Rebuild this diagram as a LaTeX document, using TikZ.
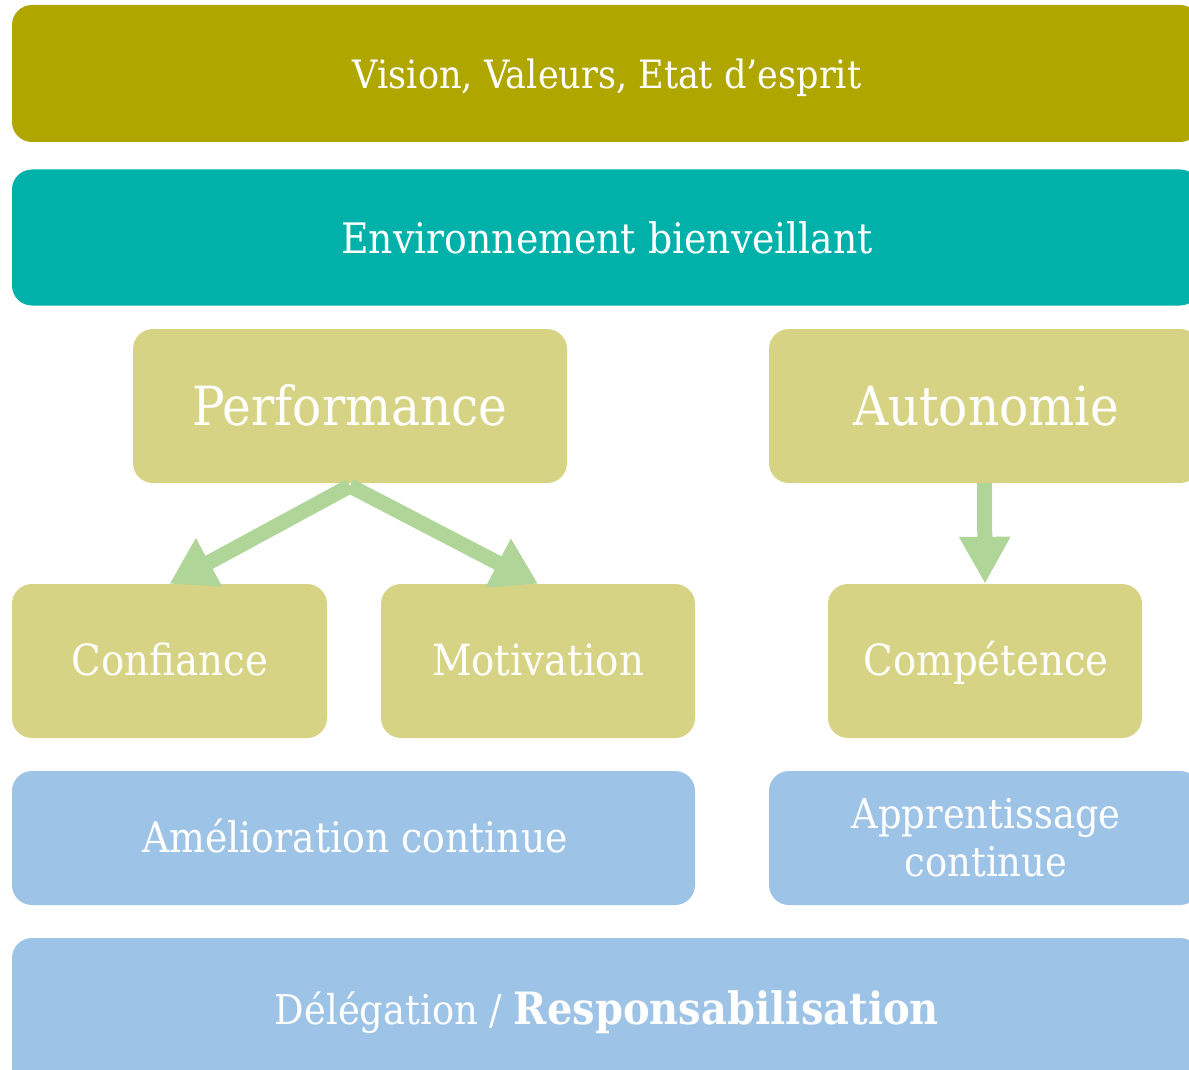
\documentclass[tikz,border=0pt]{standalone}
\usepackage{fontspec}
\setmainfont{DejaVu Serif Condensed}
\usetikzlibrary{arrows.meta}
\definecolor{olive}{HTML}{AFA600}
\definecolor{teal}{HTML}{00B1AA}
\definecolor{khaki}{HTML}{D7D384}
\definecolor{lblue}{HTML}{9DC3E6}
\definecolor{lgreen}{HTML}{AFD598}
\tikzset{
  box/.style={rectangle, rounded corners=20pt, inner sep=0pt},
  lbl/.style={text=white, anchor=base, inner sep=0pt, align=center},
  garrow/.style={draw=lgreen, line width=15pt, -{Triangle[length=45pt,width=52pt]}, lgreen},
}
\newcommand{\fs}[1]{\fontsize{#1}{#1}\selectfont}
\begin{document}
\begin{tikzpicture}[x=1pt,y=-1pt]
\useasboundingbox (0,0) rectangle (1189,1070);
\clip (0,0) rectangle (1189,1070);
\node[box, fill=olive, minimum width=1188pt, minimum height=137pt] (vision) at (606,73.5) {};
\node[lbl, font=\fs{39}] (visionlbl) at (607,89) {Vision, Valeurs, Etat d’esprit};
\node[box, fill=teal, minimum width=1188pt, minimum height=136pt] (env) at (606,237.5) {};
\node[lbl, font=\fs{42}] (envlbl) at (607,253) {Environnement bienveillant};
\node[box, fill=khaki, minimum width=434pt, minimum height=154pt] (perf) at (350,406) {};
\node[lbl, font=\fs{54}] (perflbl) at (350,425) {Performance};
\node[box, fill=khaki, minimum width=431pt, minimum height=154pt] (auto) at (984.5,406) {};
\node[lbl, font=\fs{54}] (autolbl) at (986,425) {Autonomie};
\node[box, fill=khaki, minimum width=315pt, minimum height=154pt] (conf) at (169.5,661) {};
\node[lbl, font=\fs{43}] (conflbl) at (170,675) {Confiance};
\node[box, fill=khaki, minimum width=314pt, minimum height=154pt] (motiv) at (538,661) {};
\node[lbl, font=\fs{43}] (motivlbl) at (538,675) {Motivation};
\node[box, fill=khaki, minimum width=314pt, minimum height=154pt] (comp) at (985,661) {};
\node[lbl, font=\fs{43}] (complbl) at (986,675) {Compétence};
\node[box, fill=lblue, minimum width=683pt, minimum height=134pt] (amel) at (353.5,838) {};
\node[lbl, font=\fs{42}] (amellbl) at (355,852) {Amélioration continue};
\node[box, fill=lblue, minimum width=431pt, minimum height=134pt] (appr) at (984.5,838) {};
\node[lbl, font=\fs{41}] (apprlbl1) at (986,828) {Apprentissage};
\node[lbl, font=\fs{41}] (apprlbl2) at (986,876) {continue};
\node[box, fill=lblue, minimum width=1188pt, minimum height=150pt] (deleg) at (606,1013) {};
\node[lbl, font=\fs{41}] (deleglbl) at (607,1024) {Délégation / {\fs{44.5}\bfseries Responsabilisation}};
\coordinate (apex) at (350,486);
\draw[garrow] (apex) -- (conf.north);
\draw[garrow] (apex) -- (motiv.north);
\draw[draw=lgreen, line width=15pt, -{Triangle[length=47pt,width=48pt]}, lgreen] (auto.south) -- (comp.north);
\end{tikzpicture}
\end{document}
